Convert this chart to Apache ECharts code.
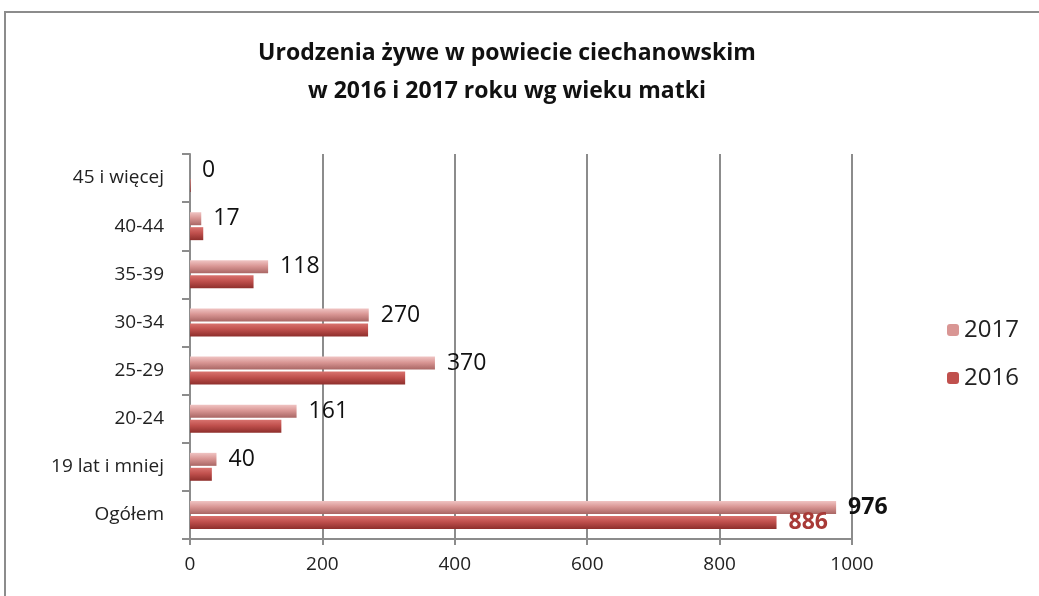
<!DOCTYPE html>
<html>
<head>
<meta charset="utf-8">
<title>Urodzenia żywe</title>
<script src="https://cdn.jsdelivr.net/npm/echarts@6/dist/echarts.min.js"></script>
<style>
    html, body { margin: 0; padding: 0; background: #fff; }
    #main { width: 1039px; height: 596px; }
</style>
</head>
<body>
<div id="main"></div>
<script>
    // kategorie wieku matki (od dołu do góry)
    var categories = ['Ogółem', '19 lat i mniej', '20-24', '25-29', '30-34', '35-39', '40-44', '45 i więcej'];
    var values2017 = [976, 40, 161, 370, 270, 118, 17, 0];
    var values2016 = [886, 33, 138, 325, 269, 96, 20, 1];
    var xTicks = [0, 200, 400, 600, 800, 1000];

    var font = '"Open Sans", "Noto Sans", sans-serif';

    function grad(c1, c2, c3) {
        return new echarts.graphic.LinearGradient(0, 0, 0, 1, [
            {offset: 0, color: c1},
            {offset: 0.45, color: c2},
            {offset: 1, color: c3}
        ]);
    }

    // etykiety: 2017 dla wszystkich, 2016 tylko dla Ogółem
    var data2017 = values2017.map(function (v, i) {
        if (i === 0) {
            return {value: v, label: {fontWeight: 'bold'}};
        }
        return v;
    });
    var data2016 = values2016.map(function (v, i) {
        if (i === 0) {
            return {value: v, label: {show: true, color: '#a83a37', fontWeight: 'bold'}};
        }
        return v;
    });

    var myChart = echarts.init(document.getElementById('main'));

    var option = {
        animation: false,
        title: {
            text: 'Urodzenia żywe w powiecie ciechanowskim\nw 2016 i 2017 roku wg wieku matki',
            left: 502,
            top: 29,
            textAlign: 'center',
            textStyle: {
                fontFamily: font,
                fontSize: 23,
                fontWeight: 'bold',
                color: '#111',
                lineHeight: 38
            }
        },
        graphic: [{
            type: 'rect',
            shape: {x: 5, y: 12, width: 1100, height: 700},
            style: {fill: 'none', stroke: '#8c8c8c', lineWidth: 2},
            silent: true
        }],
        legend: {
            orient: 'vertical',
            left: 942,
            top: 313,
            itemWidth: 12,
            itemHeight: 12,
            itemGap: 24,
            data: [
                {name: '2017', itemStyle: {color: '#d99694'}},
                {name: '2016', itemStyle: {color: '#c0504d'}}
            ],
            textStyle: {fontFamily: font, fontSize: 24, color: '#222'}
        },
        grid: {
            left: 190,
            right: 187,
            top: 154,
            bottom: 57
        },
        xAxis: {
            type: 'value',
            min: 0,
            max: 1000,
            interval: 200,
            axisLine: {show: true, lineStyle: {color: '#8c8c8c', width: 2}},
            axisTick: {show: true, length: 6, lineStyle: {color: '#8c8c8c', width: 2}},
            splitLine: {show: true, lineStyle: {color: '#8c8c8c', width: 2}},
            axisLabel: {
                fontFamily: font,
                fontSize: 19,
                color: '#222',
                margin: 16,
                formatter: function (v) {
                    return xTicks.indexOf(v) >= 0 ? String(v) : '';
                }
            }
        },
        yAxis: {
            type: 'category',
            data: categories,
            axisLine: {show: true, lineStyle: {color: '#8c8c8c', width: 2}},
            axisTick: {show: true, length: 8, lineStyle: {color: '#8c8c8c', width: 2}},
            axisLabel: {fontFamily: font, fontSize: 19, color: '#222', margin: 26}
        },
        series: [
            {
                name: '2017',
                type: 'bar',
                data: data2017,
                barWidth: 13,
                barGap: '15%',
                itemStyle: {color: grad('#f0c4c3', '#d99694', '#a96664')},
                label: {
                    show: true,
                    position: 'right',
                    distance: 12,
                    fontFamily: font,
                    fontSize: 23,
                    color: '#111'
                }
            },
            {
                name: '2016',
                type: 'bar',
                data: data2016,
                barWidth: 13,
                barGap: '15%',
                itemStyle: {color: grad('#d9736f', '#c0504d', '#8e2f2c')},
                label: {
                    show: false,
                    position: 'right',
                    distance: 12,
                    fontFamily: font,
                    fontSize: 23
                }
            }
        ]
    };

    myChart.setOption(option);
</script>
</body>
</html>
